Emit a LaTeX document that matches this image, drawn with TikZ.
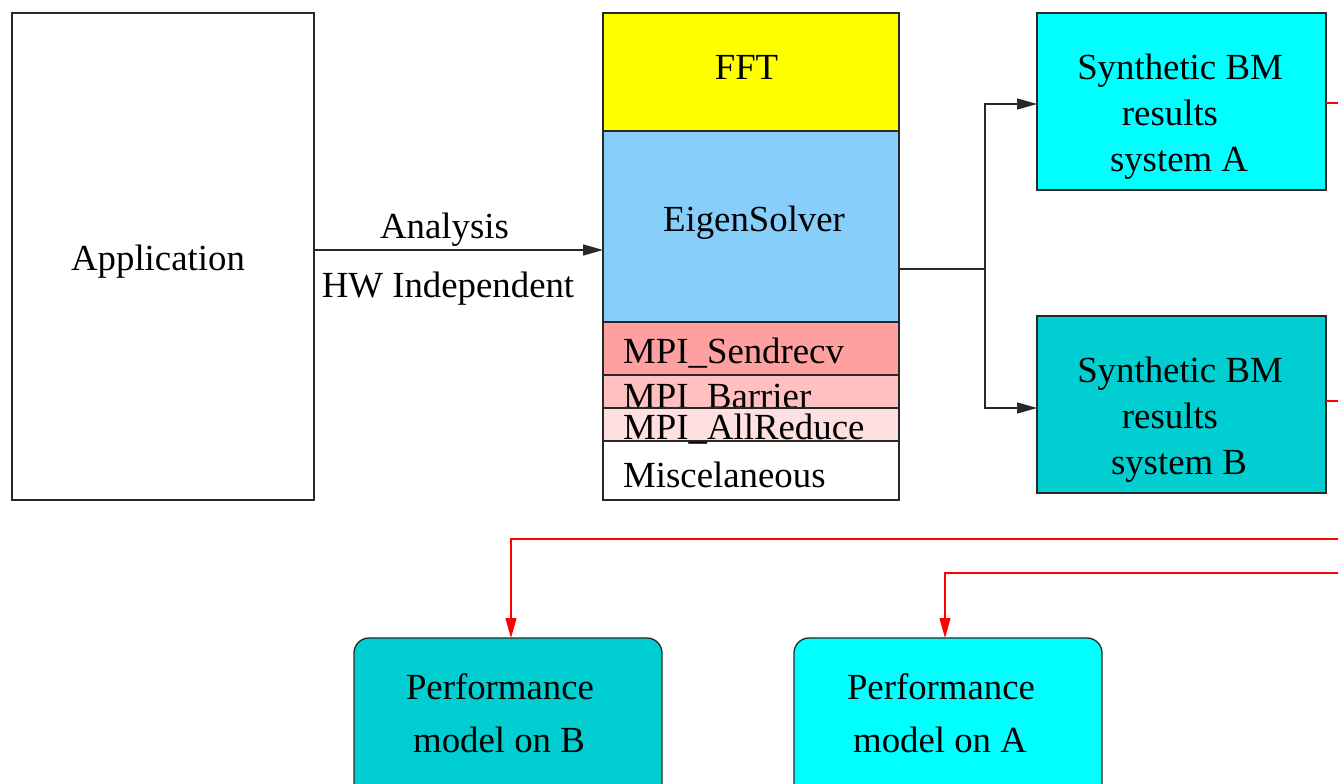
\documentclass[tikz,border=0pt]{standalone}
\usepackage{fontspec}
\setmainfont{Liberation Serif}
\usetikzlibrary{arrows.meta}
\definecolor{dturq}{RGB}{0,206,209}
\definecolor{aqua}{RGB}{0,255,255}
\definecolor{yel}{RGB}{255,255,0}
\definecolor{lsky}{RGB}{135,206,250}
\definecolor{rowa}{RGB}{255,160,160}
\definecolor{rowb}{RGB}{255,192,192}
\definecolor{rowc}{RGB}{255,224,224}
\definecolor{edge}{RGB}{40,40,40}
\definecolor{rline}{RGB}{255,0,0}
\begin{document}
\begin{tikzpicture}[x=1pt,y=-1pt,
  box/.style={draw=edge,line width=1.3pt,inner sep=0pt,outer sep=0pt,rectangle},
  rbox/.style={box,rounded corners=15pt},
  txt/.style={font=\fontsize{36.8}{44}\selectfont,inner sep=0pt,anchor=base},
  ltxt/.style={txt,anchor=base west},
  conn/.style={draw=edge,line width=1.3pt},
  tip/.style={-{Triangle[length=20pt,width=11pt]}},
  rconn/.style={draw=rline,line width=1.3pt},
]
\clip (0,0) rectangle (1338,784);
\fill[white] (0,0) rectangle (1338,784);

% Application
\node[box,fill=white,minimum width=302pt,minimum height=487pt] (app) at (163,256.5) {};
\node[txt] (tapp) at (158,270) {Application};

% stack
\node[box,fill=yel,minimum width=296pt,minimum height=118pt] (fft) at (751,72) {};
\node[txt] (tfft) at (746.5,79) {FFT};
\node[box,fill=lsky,minimum width=296pt,minimum height=191pt] (eig) at (751,226.5) {};
\node[txt] (teig) at (754,231) {EigenSolver};
\node[box,fill=rowa,minimum width=296pt,minimum height=53pt] (send) at (751,348.5) {};
\node[ltxt] (tsend) at (623,363) {MPI\_Sendrecv};
\node[box,fill=rowb,minimum width=296pt,minimum height=33pt] (barr) at (751,391.5) {};
\node[ltxt] (tbarr) at (623,408) {MPI\_Barrier};
\node[box,fill=white,minimum width=296pt,minimum height=59pt] (misc) at (751,470.5) {};
\node[box,fill=rowc,minimum width=296pt,minimum height=33pt] (allr) at (751,424.5) {};
\node[ltxt] (tallr) at (623,439) {MPI\_AllReduce};
\node[ltxt] (tmisc) at (623,487) {Miscelaneous};

% Application -> stack
\draw[conn,tip] ([yshift=6.5pt]app.east) -- ([yshift=6.5pt]app.east -| fft.west);
\node[txt] (tana) at (444.5,238) {Analysis};
\node[txt] (thw) at (448,297) {HW Independent};

% synthetic results
\node[box,fill=aqua,minimum width=289pt,minimum height=177pt] (synA) at (1181.5,101.5) {};
\node[txt] (sa1) at (1180,79) {Synthetic BM};
\node[txt] (sa2) at (1170,125) {results};
\node[txt] (sa3) at (1179,171) {system A};
\node[box,fill=dturq,minimum width=289pt,minimum height=177pt] (synB) at (1181.5,404.5) {};
\node[txt] (sb1) at (1180,382) {Synthetic BM};
\node[txt] (sb2) at (1170,428) {results};
\node[txt] (sb3) at (1179,474) {system B};

% fork connector
\coordinate (jn) at (985,269);
\draw[conn] (jn -| eig.east) -- (jn);
\draw[conn,tip] (jn) |- ([yshift=-2.5pt]synA.west);
\draw[conn,tip] (jn) |- ([yshift=-3.5pt]synB.west);

% performance models
\node[rbox,fill=dturq,minimum width=308pt,minimum height=162pt] (perfB) at (508,719) {};
\node[txt] (pb1) at (500,699) {Performance};
\node[txt] (pb2) at (499,752) {model on B};
\node[rbox,fill=aqua,minimum width=308pt,minimum height=162pt] (perfA) at (948,719) {};
\node[txt] (pa1) at (941,699) {Performance};
\node[txt] (pa2) at (940,752) {model on A};

% red connectors (routed off the right edge)
\coordinate (ra) at (1345,103);
\coordinate (rbb) at (1345,401);
\coordinate (rdb) at (1345,539);
\coordinate (rda) at (1345,573);
\draw[rconn] ([yshift=-1.5pt]synA.east) -- (ra);
\draw[rconn] ([yshift=3.5pt]synB.east) -- (rbb);
\draw[rconn,tip] (rdb) -| ([xshift=3pt]perfB.north);
\draw[rconn,tip] (rda) -| ([xshift=-3pt]perfA.north);
\end{tikzpicture}
\end{document}
